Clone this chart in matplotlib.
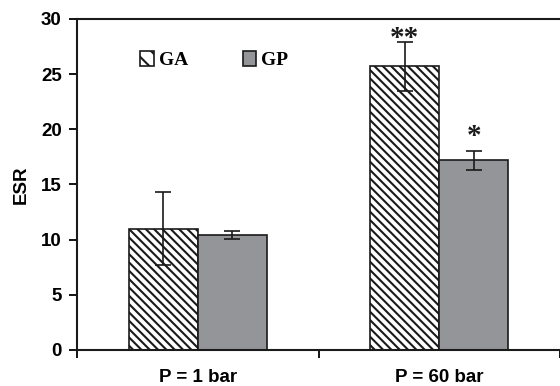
import matplotlib
matplotlib.use("Agg")
import matplotlib.pyplot as plt
import numpy as np
from matplotlib.patches import Patch

categories = ["P = 1 bar", "P = 60 bar"]
ga_values = [11.0, 25.7]
ga_err = [3.3, 2.2]
gp_values = [10.4, 17.2]
gp_err = [0.35, 0.85]
ga_marks = ["", "**"]
gp_marks = ["", "*"]
yticks = [0, 5, 10, 15, 20, 25, 30]

plt.rcParams['hatch.linewidth'] = 1.5
fig = plt.figure(figsize=(5.6, 3.86), dpi=100)
ax = fig.add_axes([0.1375, 0.0933, 0.8625, 0.8575])

dark = "#1a1a1a"
x = np.arange(len(categories))
w = 0.285
ax.bar(x - w/2, ga_values, w, color="white", edgecolor=dark, hatch="\\\\\\\\", linewidth=1.2)
ax.bar(x + w/2, gp_values, w, color="#939598", edgecolor=dark, linewidth=1.2)
ax.errorbar(x - w/2, ga_values, yerr=ga_err, fmt="none", ecolor=dark, elinewidth=1.2, capsize=6, capthick=1.2)
ax.errorbar(x + w/2, gp_values, yerr=gp_err, fmt="none", ecolor=dark, elinewidth=1.2, capsize=6, capthick=1.2)

star_font = dict(ha="center", va="center", family="Liberation Serif", fontweight="bold", fontsize=21, color=dark)
for xi, v, e, m in zip(x - w/2, ga_values, ga_err, ga_marks):
    if m:
        ax.text(xi, v + e + 0.3, m, **star_font)
for xi, v, e, m in zip(x + w/2, gp_values, gp_err, gp_marks):
    if m:
        ax.text(xi, v + e + 1.3, m, **star_font)

ax.set_xlim(-0.5, 1.5)
ax.set_ylim(0, 30)
ax.set_yticks(yticks)
ax.set_yticklabels([str(t) for t in yticks], fontsize=13.5, fontweight="bold", family="Liberation Sans")
ax.set_xticks(x)
ax.set_xticklabels(categories, fontsize=13.5, fontweight="bold", family="Liberation Sans")
ax.set_xticks([-0.5, 0.5, 1.5], minor=True)
ax.tick_params(axis="x", which="major", length=0, pad=14)
ax.tick_params(axis="x", which="minor", length=6, width=1.3, direction="out")
ax.tick_params(axis="y", length=6, width=1.3, direction="out", pad=5)

ax.set_ylabel("ESR", fontsize=13.5, fontweight="bold", family="Liberation Sans", labelpad=8)

for s in ["left", "bottom", "top"]:
    ax.spines[s].set_linewidth(1.5)
    ax.spines[s].set_color(dark)
ax.spines["right"].set_visible(False)

handles = [Patch(facecolor="white", edgecolor=dark, hatch="\\\\", label="GA", linewidth=1.2),
           Patch(facecolor="#939598", edgecolor=dark, label="GP", linewidth=1.2)]
ax.legend(handles=handles, loc="upper left", bbox_to_anchor=(0.095, 0.955), ncol=2, frameon=False,
          prop={"family": "Liberation Serif", "weight": "bold", "size": 14},
          handlelength=0.7, handleheight=0.75, handletextpad=0.25, columnspacing=2.8)

fig.savefig("out.png", dpi=100)
